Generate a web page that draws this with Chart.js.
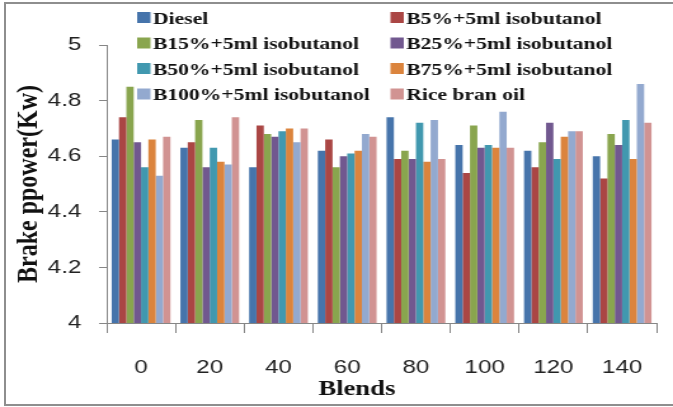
<!DOCTYPE html>
<html>
<head>
<meta charset="utf-8">
<script src="https://cdn.jsdelivr.net/npm/chart.js@4"></script>
<style>
  html, body { margin: 0; padding: 0; background: #fff; overflow: hidden; }
  body { width: 673px; height: 407px; position: relative; }
  #frame { position: absolute; left: 4px; top: 2px; width: 700px; height: 400px; border: 2px solid #8e8e8e; }
  #c { position: absolute; left: 0; top: 0; }
</style>
</head>
<body>
<div id="frame"></div>
<!-- drawn 530 wide and stretched to 673, the reference is a stretched picture -->
<canvas id="c" width="530" height="407" style="width:673px;height:407px"></canvas>
<script>
var blends = ["0", "20", "40", "60", "80", "100", "120", "140"];
var yTicks = [4, 4.2, 4.4, 4.6, 4.8, 5];

var diesel = [4.66, 4.63, 4.56, 4.62, 4.74, 4.64, 4.62, 4.60];
var b5 = [4.74, 4.65, 4.71, 4.66, 4.59, 4.54, 4.56, 4.52];
var b15 = [4.85, 4.73, 4.68, 4.56, 4.62, 4.71, 4.65, 4.68];
var b25 = [4.65, 4.56, 4.67, 4.60, 4.59, 4.63, 4.72, 4.64];
var b50 = [4.56, 4.63, 4.69, 4.61, 4.72, 4.64, 4.59, 4.73];
var b75 = [4.66, 4.58, 4.70, 4.62, 4.58, 4.63, 4.67, 4.59];
var b100 = [4.53, 4.57, 4.65, 4.68, 4.73, 4.76, 4.69, 4.86];
var riceBran = [4.67, 4.74, 4.70, 4.67, 4.59, 4.63, 4.69, 4.72];

var seriesNames = [
  "Diesel", "B5%+5ml isobutanol", "B15%+5ml isobutanol", "B25%+5ml isobutanol",
  "B50%+5ml isobutanol", "B75%+5ml isobutanol", "B100%+5ml isobutanol", "Rice bran oil"
];
var seriesData = [diesel, b5, b15, b25, b50, b75, b100, riceBran];
var colors = ["#4674AB", "#AA4644", "#89A54E", "#71588F", "#4198AF", "#DB843D", "#93A9CF", "#D19392"];

// legend in two columns, drawn over the top of the plot like the original
var twoColLegend = {
  id: "twoColLegend",
  afterDraw: function (chart) {
    var ctx = chart.ctx;
    ctx.save();
    ctx.font = "bold 17px 'Liberation Serif'";
    ctx.fillStyle = "#111";
    ctx.textBaseline = "alphabetic";
    chart.data.datasets.forEach(function (ds, i) {
      var col = i % 2, row = Math.floor(i / 2);
      var x = 108 + col * 199.5;
      var y = 17.5 + row * 25.5;
      ctx.fillStyle = ds.backgroundColor;
      ctx.fillRect(x, y - 5.5, 10.5, 11);
      ctx.fillStyle = "#111";
      ctx.fillText(ds.label, x + 12.5, y + 6);
    });
    // x axis title
    ctx.font = "bold 21px 'Liberation Serif'";
    ctx.textAlign = "center";
    ctx.fillText("Blends", 281, 395);
    ctx.restore();
  }
};

var ctx = document.getElementById("c").getContext("2d");
var chart = new Chart(ctx, {
  type: "bar",
  data: {
    labels: blends,
    datasets: seriesNames.map(function (name, i) {
      return {
        label: name,
        data: seriesData[i],
        backgroundColor: colors[i],
        borderWidth: 0,
        categoryPercentage: 0.855,
        barPercentage: 1
      };
    })
  },
  options: {
    responsive: false,
    devicePixelRatio: 1,
    animation: false,
    layout: { padding: { left: 0, right: 13, top: 45, bottom: 0 } },
    plugins: { legend: { display: false }, tooltip: { enabled: false } },
    scales: {
      x: {
        afterFit: function (s) { s.height = 84; },
        border: { color: "#868686", width: 1 },
        grid: { drawOnChartArea: false, drawTicks: true, tickLength: 10, color: "#868686", offset: true },
        ticks: { padding: 23, color: "#222", font: { family: "'Liberation Sans'", size: 19 } }
      },
      y: {
        min: 4,
        max: 5,
        afterFit: function (s) { s.width = 84; },
        afterBuildTicks: function (s) { s.ticks = yTicks.map(function (v) { return { value: v }; }); },
        border: { color: "#868686", width: 1 },
        grid: { drawOnChartArea: false, drawTicks: true, tickLength: 6, color: "#868686" },
        ticks: {
          padding: 14,
          color: "#222",
          font: { family: "'Liberation Sans'", size: 19 },
          callback: function (v) { return String(+(+v).toFixed(1)); }
        },
        title: {
          display: true,
          text: "Brake ppower(Kw)",
          color: "#111",
          padding: { top: 8, bottom: 0 },
          font: { family: "'Liberation Serif'", size: 24, weight: "bold" }
        }
      }
    }
  },
  plugins: [twoColLegend]
});
</script>
</body>
</html>
